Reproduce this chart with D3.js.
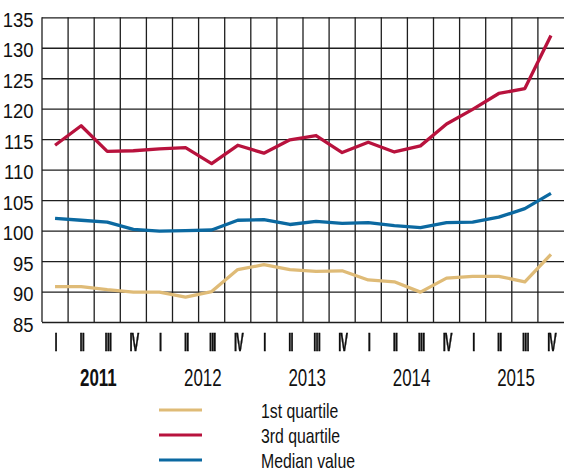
<!DOCTYPE html>
<html>
<head>
<meta charset="utf-8">
<script src="https://cdn.jsdelivr.net/npm/d3@7"></script>
<style>
  html, body { margin: 0; padding: 0; background: #fff; }
  svg { display: block; }
  svg text { font-family: "Liberation Sans", Arial, sans-serif; fill: #111; }
  .numerals { filter: grayscale(1); }
</style>
</head>
<body>
<svg id="chart" width="564" height="473"></svg>
<script>
// Quarterly index values, 2011 Q1 – 2015 Q4
const years = ["2011", "2012", "2013", "2014", "2015"];
const quarterNames = ["I", "II", "III", "IV"];
const quarters = years.flatMap(y => quarterNames.map(q => y + "-" + q));

const firstQuartile = [90.8, 90.8, 90.3, 89.9, 89.9, 89.1, 90.0, 93.6, 94.4, 93.6,
                       93.3, 93.4, 91.9, 91.6, 89.9, 92.2, 92.5, 92.5, 91.6, 96.1];
const thirdQuartile = [114.0, 117.2, 113.0, 113.1, 113.4, 113.6, 111.0, 114.0, 112.7, 114.9,
                       115.6, 112.8, 114.5, 112.9, 113.9, 117.5, 119.9, 122.5, 123.3, 132.0];
const medianValue   = [102.0, 101.7, 101.4, 100.2, 99.9, 100.0, 100.1, 101.7, 101.8, 101.0,
                       101.5, 101.2, 101.3, 100.8, 100.5, 101.3, 101.4, 102.2, 103.6, 106.1];

const yTicks = [85, 90, 95, 100, 105, 110, 115, 120, 125, 130, 135];

const seriesNames = ["1st quartile", "3rd quartile", "Median value"];
const seriesColors = ["#dfbb77", "#b8123d", "#0b69a1"];

const svg = d3.select("#chart");
const plotLeft = 42, plotRight = 564, plotTop = 17.3, plotBottom = 322;

const x = d3.scaleBand().domain(quarters).range([plotLeft, plotRight]).padding(0);
const xYear = d3.scaleBand().domain(years).range([plotLeft, plotRight]).padding(0);
const y = d3.scaleLinear().domain([85, 135]).range([plotBottom, plotTop]);

// Condensed lettering: horizontal squeeze around the text anchor
function condense(sel, dx, dy, sx) {
  sel.attr("x", 0).attr("y", 0).attr("dy", null)
     .attr("transform", `translate(${dx},${dy}) scale(${sx},1)`);
}

// Horizontal grid + value labels
const yAxis = svg.append("g")
  .attr("transform", `translate(${plotLeft},0)`)
  .call(d3.axisLeft(y).tickValues(yTicks).tickSizeInner(-(plotRight - plotLeft)).tickSizeOuter(0).tickFormat(d3.format("d")));
yAxis.select(".domain").remove();
yAxis.selectAll(".tick line").attr("stroke", "#1e1e1e").attr("stroke-width", 1.3);
yAxis.selectAll(".tick text")
  .attr("font-size", 21)
  .attr("text-anchor", "end")
  .call(condense, -8.5, 9, 0.88);

// Vertical grid at quarter boundaries
svg.append("g")
  .selectAll("line")
  .data(quarters)
  .join("line")
  .attr("x1", d => x(d)).attr("x2", d => x(d))
  .attr("y1", plotTop).attr("y2", plotBottom)
  .attr("stroke", "#1e1e1e").attr("stroke-width", 1.3);

// Quarter numerals (tall, narrow strokes)
const qAxis = svg.append("g")
  .attr("class", "numerals")
  .attr("transform", `translate(0,${plotBottom})`)
  .call(d3.axisBottom(x).tickSize(0).tickFormat(d => d.split("-")[1]));
qAxis.select(".domain").remove();
qAxis.selectAll(".tick text")
  .attr("font-size", 25.5)
  .attr("font-weight", "bold")
  .attr("letter-spacing", -2)
  .attr("fill", "#000")
  .attr("stroke", "#000")
  .attr("stroke-width", 0.45)
  .attr("vector-effect", "non-scaling-stroke")
  .call(condense, 0.6, 29, 0.44);

// Year labels
const yearAxis = svg.append("g")
  .attr("transform", `translate(0,${plotBottom})`)
  .call(d3.axisBottom(xYear).tickSize(0));
yearAxis.select(".domain").remove();
yearAxis.selectAll(".tick text")
  .attr("font-size", 23.5)
  .attr("font-weight", d => d === "2011" ? "bold" : "normal")
  .call(condense, 4.2, 64, 0.72);

// Series lines
const line = d3.line()
  .x((d, i) => x(quarters[i]) + x.bandwidth() / 2)
  .y(d => y(d));

const allSeries = [firstQuartile, thirdQuartile, medianValue];
svg.append("g")
  .selectAll("path")
  .data(allSeries)
  .join("path")
  .attr("d", d => line(d))
  .attr("fill", "none")
  .attr("stroke", (d, i) => seriesColors[i])
  .attr("stroke-width", 3.3)
  .attr("stroke-linejoin", "round");

// Legend
const legend = svg.append("g").attr("transform", "translate(159,410)");
const items = legend.selectAll("g")
  .data(seriesNames)
  .join("g")
  .attr("transform", (d, i) => `translate(0,${i * 25})`);
items.append("line")
  .attr("x1", 0).attr("x2", 43)
  .attr("stroke", (d, i) => seriesColors[i])
  .attr("stroke-width", 3.2);
items.append("text")
  .attr("font-size", 20)
  .text(d => d)
  .call(condense, 102, 7.5, 0.79);
</script>
</body>
</html>
